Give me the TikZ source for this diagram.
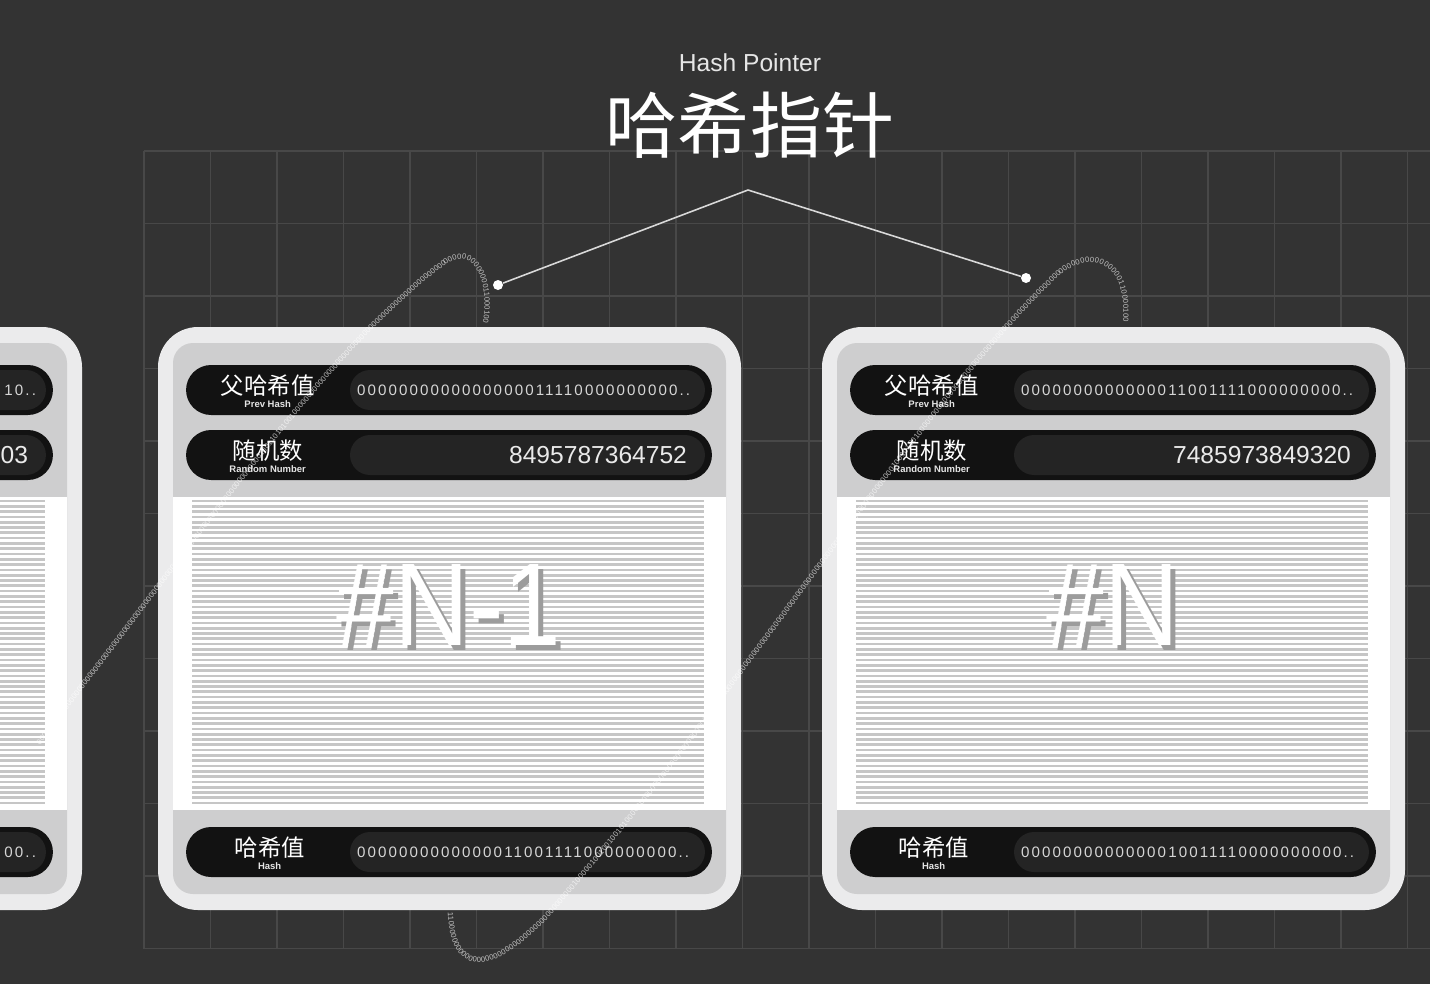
\documentclass[tikz,border=0pt]{standalone}
\usepackage{fontspec}
\setmainfont{Liberation Sans}
\newfontfamily\cjk{Noto Sans CJK SC}
\newfontfamily\hashfont[LetterSpace=14]{Liberation Sans}
\newfontfamily\numfont[FakeStretch=0.88]{Liberation Sans}
\usetikzlibrary{positioning,decorations.text}

\definecolor{bgdark}{HTML}{333333}
\definecolor{gridgray}{HTML}{484848}
\definecolor{rimgray}{HTML}{EBEBEC}
\definecolor{panelgray}{HTML}{CECECF}
\definecolor{stripegray}{HTML}{C6C6C6}
\definecolor{barblack}{HTML}{121212}
\definecolor{barvalue}{HTML}{242424}
\definecolor{digitgray}{HTML}{D6D6D6}
\definecolor{randgray}{HTML}{EAEAEA}
\definecolor{labelgray}{HTML}{E6E6E6}
\definecolor{linegray}{HTML}{D9D9D9}
\definecolor{shadowgray}{HTML}{9C9C9C}

\newcommand\binfont{\fontsize{4.3pt}{5pt}\selectfont\color{white}}
\newcommand\tinyfont{\normalfont\bfseries\fontsize{5.4pt}{6pt}\selectfont\color{labelgray}}

\begin{document}
\begin{tikzpicture}[x=0.02cm,y=-0.02cm,
   gridline/.style={draw=gridgray,line width=0.6pt},
   cardrim/.style={fill=rimgray,rounded corners=0.8cm},
   cardpanel/.style={fill=panelgray,rounded corners=0.4cm},
   stripeline/.style={draw=stripegray,line width=1.5pt},
   hashbar/.style={rectangle,fill=barblack,rounded corners=0.5cm,
      minimum width=10.52cm,minimum height=1cm,inner sep=0pt},
   valuebox/.style={rectangle,fill=barvalue,rounded corners=0.4cm,
      minimum width=7.1cm,minimum height=0.8cm,inner sep=0pt},
   barlabel/.style={text=white,inner sep=0pt,align=center,
      font={\cjk\fontsize{13.3pt}{7.1pt}\selectfont}},
   hashtext/.style={text=digitgray,inner sep=0pt,anchor=west,
      font={\hashfont\fontsize{8.6pt}{10pt}\selectfont}},
   randtext/.style={text=randgray,inner sep=0pt,anchor=east,
      font={\fontsize{14pt}{16pt}\selectfont}},
   blocknum/.style={text=white,inner sep=0pt,
      font={\numfont\fontsize{67pt}{70pt}\selectfont}},
   blockshadow/.style={blocknum,text=shadowgray},
   titlecn/.style={text=white,inner sep=0pt,
      font={\cjk\fontsize{41pt}{48pt}\selectfont}},
   titleen/.style={text=labelgray,inner sep=0pt,
      font={\fontsize{14pt}{16pt}\selectfont}},
   ptrline/.style={draw=linegray,line width=0.9pt},
   ptrdot/.style={circle,fill=white,minimum size=0.2cm,inner sep=0pt}
]
   \fill[bgdark] (0,0) rectangle (1430,984);
   \useasboundingbox (0,0) rectangle (1430,984);
   \clip (0,0) rectangle (1430,984);

   % grid
   \foreach \k in {0,...,19}
      \draw[gridline] ({144+66.5*\k},151) -- ({144+66.5*\k},949);
   \foreach \k in {0,...,11}
      \draw[gridline] (144,{151+72.5*\k}) -- (1430,{151+72.5*\k});

   % blocks
   \foreach \i/\x in {0/-501,1/158,2/822} {
      \fill[cardrim] (\x,327) rectangle ++(583,583);
      \fill[cardpanel] ({\x+15},343) rectangle ({\x+568},894);
      \fill[white] ({\x+15},497) rectangle ({\x+568},810);
      \foreach \k in {0,...,57}
         \draw[stripeline] ({\x+34},{501+5.3*\k}) -- ({\x+546},{501+5.3*\k});

      \node[hashbar] (prev\i) at ({\x+291},390) {};
      \node[hashbar] (rand\i) at ({\x+291},455) {};
      \node[hashbar] (hash\i) at ({\x+291},852) {};
      \node[valuebox,left=0.14cm of prev\i.east] (pv\i) {};
      \node[valuebox,left=0.14cm of rand\i.east] (rv\i) {};
      \node[valuebox,left=0.14cm of hash\i.east] (hv\i) {};
   }

   \foreach \i/\prevhash/\randnum/\hashval/\blocklabel in {
      1/0000000000000000011110000000000../8495787364752/0000000000000011001111000000000../\#N-1,
      2/0000000000000011001111000000000../7485973849320/0000000000000010011110000000000../\#N} {
      \node[barlabel] (pl\i) at ([xshift=1.64cm,yshift=-0.02cm]prev\i.west)
         {父哈希值\\{\tinyfont Prev Hash}};
      \node[hashtext] at ([xshift=3.42cm]prev\i.west) {\prevhash};
      \node[barlabel] (rl\i) at ([xshift=1.64cm,yshift=-0.02cm]rand\i.west)
         {随机数\\{\tinyfont Random Number}};
      \node[randtext] at ([xshift=-0.5cm]rand\i.east) {\randnum};
      \node[barlabel] (hl\i) at ([xshift=1.68cm,yshift=-0.02cm]hash\i.west)
         {哈希值\\{\tinyfont Hash}};
      \node[hashtext] at ([xshift=3.42cm]hash\i.west) {\hashval};
      \node[blockshadow] at ([xshift=0.1cm,yshift=4.84cm]hash\i.center) {\blocklabel};
      \node[blocknum] (num\i) at ([yshift=4.94cm]hash\i.center) {\blocklabel};
   }
   % the block cut off on the left
   \node[hashtext,anchor=east] at ([xshift=-0.34cm]prev0.east) {10..};
   \node[randtext] at ([xshift=-0.5cm]rand0.east) {03};
   \node[hashtext,anchor=east] at ([xshift=-0.34cm]hash0.east) {00..};

   % binary strings
   \begin{scope}[opacity=0.7]
      \path[decorate,decoration={text along path,text align=fit to path,
         text={|\binfont|000000000000000000000000000000000000000000000000000000000000000000000000000000000001001101010010000000000000000000000000000000000000000000000000000000000000011000100}}]
         (40,745) .. controls (200,540) and (330,350) .. (445,265)
         .. controls (475,243) and (490,285) .. (483,322);
      \path[decorate,decoration={text along path,text align=fit to path,
         text={|\binfont|1100000000000000000000000000000000000000001000001001001001010000000000000000000000000000000000000}}]
         (448,912) .. controls (450,985) and (500,975) .. (560,905)
         .. controls (620,835) and (680,760) .. (730,690);
      \path[decorate,decoration={text along path,text align=fit to path,
         text={|\binfont|00000000000000000000000000000000000000000000000000000000000010010100100000000000000000000000000000000000000000000000000000000000000110000100}}]
         (730,690) .. controls (840,545) and (960,370) .. (1060,275)
         .. controls (1090,250) and (1128,260) .. (1123,322);
   \end{scope}

   % title and pointer
   \node[titleen] (hp) at (750,63) {Hash Pointer};
   \node[titlecn] (title) at (750,125) {哈希指针};
   \coordinate (apex) at (748,190);
   \node[ptrdot] (dotl) at (498,285) {};
   \node[ptrdot] (dotr) at (1026,278) {};
   \draw[ptrline] (dotl) -- (apex) -- (dotr);
\end{tikzpicture}
\end{document}
